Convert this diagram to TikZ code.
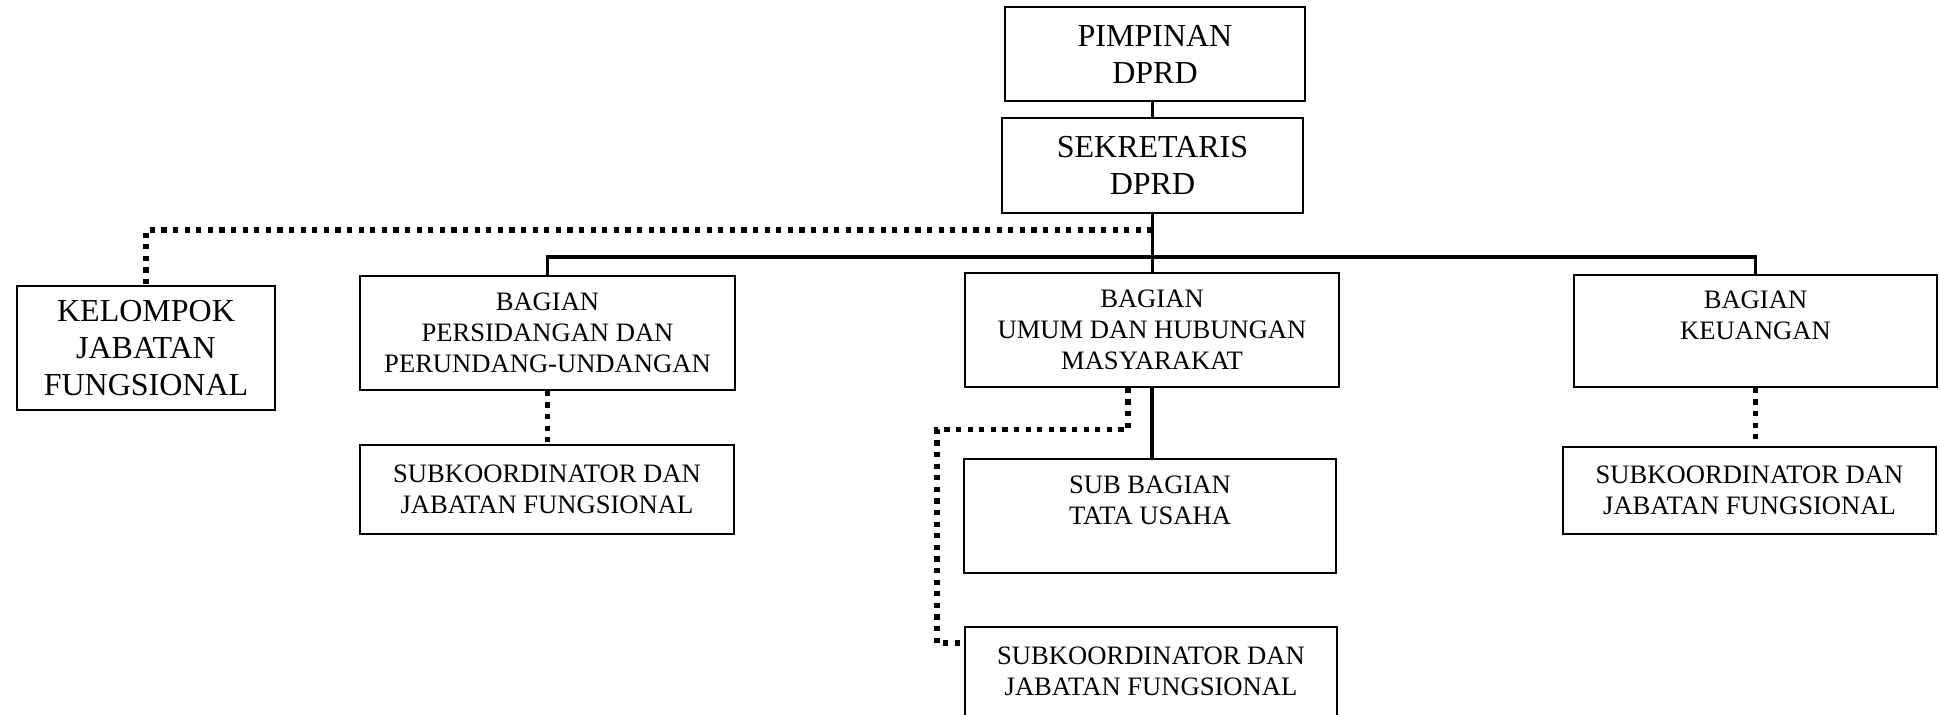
\documentclass[tikz,border=0pt]{standalone}
\usepackage{fontspec}
\setmainfont{Liberation Serif}
\tikzset{>=stealth}
\colorlet{background}{white}
\colorlet{penColor}{black}
\tikzset{
  box/.style={draw=penColor, line width=0.8pt, align=center, inner sep=0pt},
  bigbox/.style={box, font=\fontsize{16}{18.5}\selectfont},
  smallbox/.style={box, font=\fontsize{13.3}{15.5}\selectfont},
  solidline/.style={penColor, line width=1.6pt},
  dotline/.style={penColor, line width=2.6pt, dash pattern=on 2.6pt off 3.2pt},
}

\begin{document}
\begin{tikzpicture}[x=0.5pt,y=-0.5pt]
  \useasboundingbox[fill=background] (0,0) rectangle (1940,715);
  % top of the chart
  \node[bigbox, minimum width=150pt, minimum height=47pt] (pim) at (1155,54) {PIMPINAN\\DPRD};
  \node[bigbox, minimum width=150.5pt, minimum height=47.5pt] (sek) at (1152.5,165.5) {SEKRETARIS\\DPRD};
  \node[bigbox, minimum width=129pt, minimum height=62pt] (kel) at (146,348) {KELOMPOK\\JABATAN\\FUNGSIONAL};
  % bagian
  \node[smallbox, minimum width=187.5pt, minimum height=57pt] (per) at (547.5,333) {BAGIAN\\PERSIDANGAN DAN\\PERUNDANG-UNDANGAN};
  \node[smallbox, minimum width=187pt, minimum height=57pt] (umum) at (1152,330) {BAGIAN\\UMUM DAN HUBUNGAN\\MASYARAKAT};
  \node[smallbox, minimum width=181.5pt, minimum height=56pt, text depth=16pt] (keu) at (1755.5,331) {BAGIAN\\KEUANGAN};
  % sub bagian
  \node[smallbox, minimum width=187pt, minimum height=44.5pt] (sub1) at (547,489.5) {SUBKOORDINATOR DAN\\JABATAN FUNGSIONAL};
  \node[smallbox, minimum width=186pt, minimum height=57pt, text depth=16pt] (tu) at (1150,516) {SUB BAGIAN\\TATA USAHA};
  \node[smallbox, minimum width=186pt, minimum height=44.5pt] (sub2) at (1151,671.5) {SUBKOORDINATOR DAN\\JABATAN FUNGSIONAL};
  \node[smallbox, minimum width=186.5pt, minimum height=43.5pt] (sub3) at (1749.5,490.5) {SUBKOORDINATOR DAN\\JABATAN FUNGSIONAL};
  % lines
  \coordinate (bus) at (0,257);
  \coordinate (dots) at (0,230);
  \draw[solidline] (sek.north) -- (sek.north |- pim.south);
  \draw[solidline] (sek.south) -- (sek.south |- umum.north);
  \draw[solidline] (per.north) -- (per.north |- bus) -- (keu.north |- bus) -- (keu.north);
  \draw[dotline] (sek.south |- dots) -- (kel.north |- dots) -- (kel.north);
  \draw[dotline] (per.south) -- (per.south |- sub1.north);
  \draw[solidline] (umum.south) -- (umum.south |- tu.north);
  \draw[dotline] ([xshift=-12pt]umum.south) -- ++(0,42) -| (937,643) -- (sub2.west |- 0,643);% dotted line round to the left
  \draw[dotline] (keu.south) -- (keu.south |- sub3.north);
\end{tikzpicture}
\end{document}
